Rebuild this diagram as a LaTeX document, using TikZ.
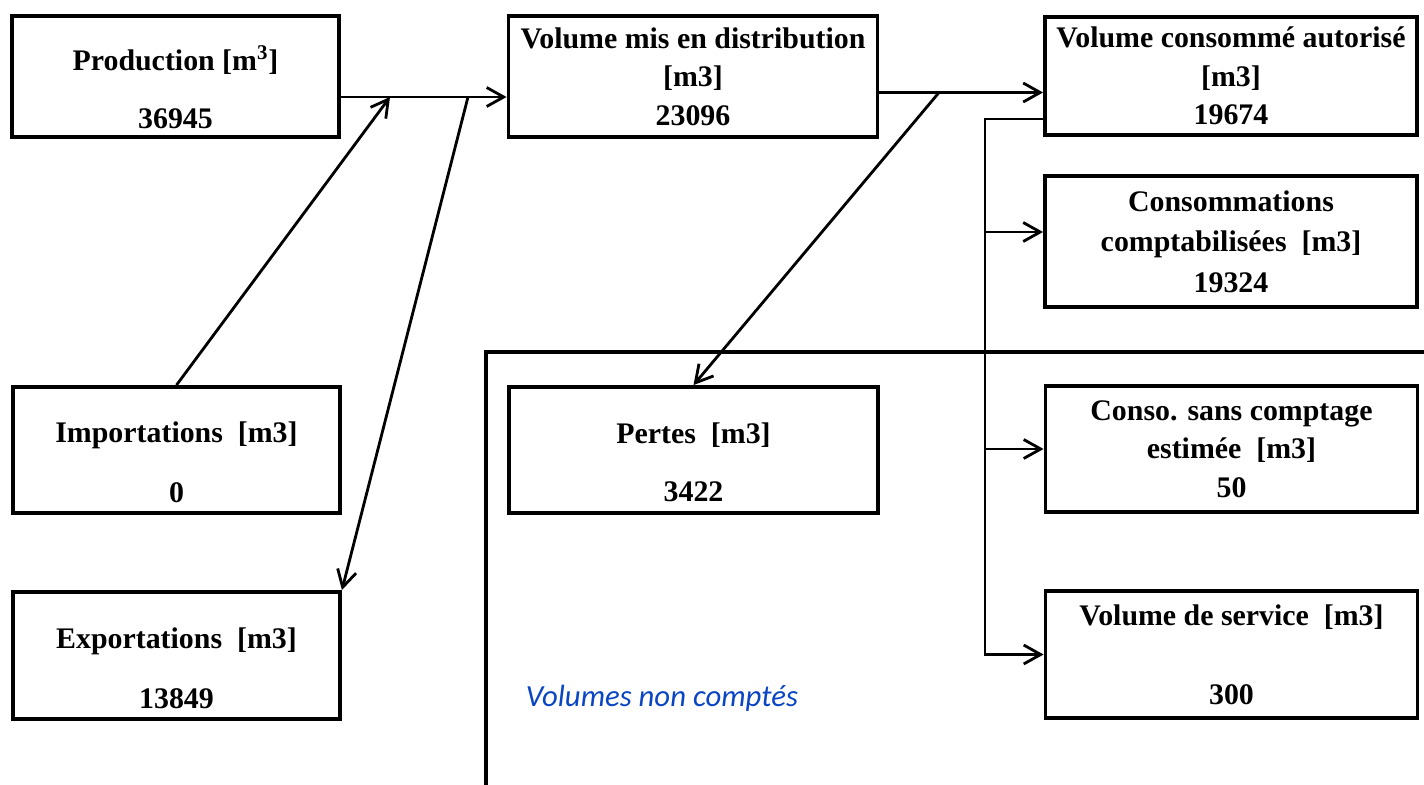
\documentclass[tikz,border=0pt]{standalone}
\usepackage{fontspec}
\setmainfont{Liberation Serif}
\newfontfamily\notefont{Carlito}
\usepackage{xcolor}
\usepackage{tikz}
\usetikzlibrary{arrows.meta}

\definecolor{noteblue}{RGB}{10,70,195}

\begin{document}
\begin{tikzpicture}[
  font=\bfseries\fontsize{17}{22}\selectfont,
  box/.style={draw, line width=2.2pt, align=center, inner xsep=2pt, inner ysep=0pt},
  lbox/.style={box, minimum width=6.54cm},
  mbox/.style={box, minimum width=7.38cm},
  rbox/.style={box, minimum width=7.44cm},
  flow/.style={-{Straight Barb[length=3.4mm,width=3.8mm]}, line width=1.6pt}
]
  \useasboundingbox (0,0) rectangle (28.48,-15.7);

  % Left column: production, imports, exports
  \node[lbox, minimum height=2.42cm] (prod) at (3.51,-1.53)
    {\rule{0pt}{26pt}Production [m\textsuperscript{3}]\\[11pt]36945};
  \node[lbox, minimum height=2.52cm] (imp) at (3.53,-9.0)
    {\rule{0pt}{26pt}Importations~~[m3]\\[12pt]0};
  \node[lbox, minimum height=2.54cm] (exp) at (3.53,-13.11)
    {\rule{0pt}{26pt}Exportations~~[m3]\\[12pt]13849};

  % Middle column
  \node[mbox, minimum height=2.42cm] (vmis) at (13.86,-1.53)
    {Volume mis en distribution\\{[m3]}\\23096};
  \node[mbox, minimum height=2.52cm] (pertes) at (13.87,-9.0)
    {\rule{0pt}{26pt}Pertes~~[m3]\\[11pt]3422};

  % Right column: authorised consumption and its parts
  \node[rbox, minimum height=2.36cm] (vcons) at (24.62,-1.52)
    {Volume consommé autorisé\\{[m3]}\\19674};
  \node[rbox, minimum height=2.62cm] (ccomp) at (24.62,-4.83)
    {Consommations\\[1pt]comptabilisées~~[m3]\\[1pt]19324};
  \node[rbox, minimum height=2.52cm] (csans) at (24.63,-8.98)
    {Conso. sans comptage\\estimée~~[m3]\\50};
  \node[rbox, minimum height=2.54cm] (vserv) at (24.63,-13.09)
    {Volume de service~~[m3]\\[23pt]300};

  % Frame of the non-counted volumes
  \draw[line width=2.2pt] (9.72,-15.7) -- (9.72,-7.04) -- (28.48,-7.04);
  \node[font=\notefont\mdseries\itshape\fontsize{17.5}{21}\selectfont, text=noteblue] (nc) at (13.24,-13.96) {Volumes non comptés};

  % Junctions on the flow lines
  \coordinate (jin) at (7.8,-1.94);
  \coordinate (jout) at (9.36,-1.94);
  \coordinate (jdist) at (18.78,-1.85);
  \coordinate (jauth) at (19.7,-2.38);

  \draw[flow] (prod.east |- jin) -- (vmis.west |- jin);
  \draw[flow] (imp.north) -- (jin);
  \draw[flow] (jout) -- (exp.north east);

  \draw[flow] (vmis.east |- jdist) -- (vcons.west |- jdist);
  \draw[flow] (jdist) -- (pertes.north);

  \draw[flow] (vcons.west |- jauth) -- (jauth) |- (vserv.west);
  \draw[flow] (jauth |- 0,-4.64) -- (ccomp.west |- 0,-4.64);
  \draw[flow] (jauth |- csans.west) -- (csans.west);
\end{tikzpicture}
\end{document}
